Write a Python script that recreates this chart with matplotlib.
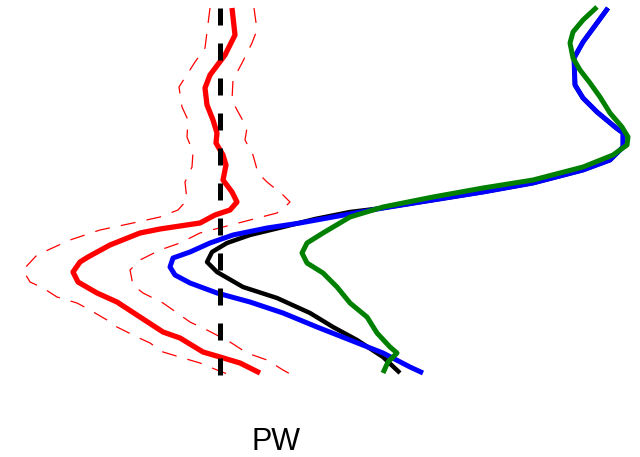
from matplotlib import pyplot as plt

# profiles, x value vs depth (depth grows downward)
red_x = [232, 235, 225, 210, 205, 207, 213, 217, 216, 223, 226, 223, 232, 237, 230, 215,
         200, 160, 140, 110, 88, 80, 73, 78, 97, 117, 140, 163, 180, 203, 220, 240, 260]
red_d = [8, 35, 55, 75, 88, 105, 120, 133, 143, 155, 165, 180, 192, 202, 210, 215,
         223, 229, 233, 245, 257, 262, 272, 282, 293, 302, 317, 332, 338, 352, 357, 363, 373]

red_lo_x = [210, 205, 195, 179, 182, 188, 187, 193, 192, 185, 187, 178, 160, 133, 100, 70,
            37, 23, 30, 43, 57, 77, 90, 107, 117, 137, 150, 163, 183, 200, 217, 230]
red_lo_d = [8, 48, 62, 87, 107, 120, 137, 152, 167, 182, 200, 210, 217, 223, 230, 240,
            255, 270, 282, 288, 297, 303, 310, 320, 327, 337, 343, 352, 358, 363, 370, 375]

red_hi_x = [254, 257, 252, 242, 233, 232, 237, 247, 245, 253, 258, 267, 283, 290, 285, 277,
            250, 227, 200, 180, 160, 140, 130, 133, 143, 163, 173, 190, 207, 230, 247, 267,
            283, 292]
red_hi_d = [8, 30, 43, 63, 80, 100, 110, 128, 140, 155, 173, 182, 195, 202, 207, 213,
            220, 226, 233, 243, 250, 260, 270, 285, 293, 303, 310, 322, 330, 342, 353, 360,
            370, 375]

blue_x = [608, 597, 583, 574, 575, 583, 597, 615, 623, 623, 610, 583, 533, 483, 433, 383,
          333, 300, 267, 233, 210, 190, 173, 170, 175, 190, 217, 250, 283, 317, 350, 383,
          410, 423]
blue_d = [8, 23, 42, 58, 85, 98, 112, 127, 133, 147, 160, 170, 183, 192, 200, 208,
          217, 223, 228, 235, 243, 252, 258, 267, 275, 283, 293, 302, 313, 327, 340, 353,
          367, 373]

black_x = [608, 597, 583, 574, 575, 583, 597, 615, 623, 623, 610, 583, 533, 483, 433, 383,
           350, 315, 283, 250, 227, 212, 207, 217, 243, 277, 310, 333, 357, 383, 400]
black_d = [8, 23, 42, 58, 85, 98, 112, 127, 133, 147, 160, 170, 183, 192, 200, 208,
           212, 219, 227, 235, 243, 252, 262, 272, 287, 298, 313, 327, 340, 357, 373]

green_x = [597, 583, 573, 570, 573, 580, 590, 600, 610, 622, 628, 627, 613, 583, 533, 483,
           433, 383, 350, 323, 307, 302, 307, 323, 337, 350, 367, 377, 390, 397, 388, 383]
green_d = [7, 20, 32, 43, 58, 70, 83, 97, 113, 127, 137, 145, 155, 167, 180, 188,
           197, 207, 217, 233, 243, 253, 263, 273, 287, 303, 317, 333, 347, 353, 362, 373]

ref_x = [220, 220]
ref_d = [8, 375]


def main():
    fig = plt.figure(figsize=(6.4, 4.57), dpi=100)
    ax = fig.add_axes([0, 0, 1, 1])

    ax.plot(red_lo_x, red_lo_d, color='red', lw=0.9, dashes=(12, 9))
    ax.plot(red_hi_x, red_hi_d, color='red', lw=0.9, dashes=(12, 9))
    ax.plot(red_x, red_d, color='red', lw=3.8, solid_capstyle='butt',
            solid_joinstyle='round')
    ax.plot(black_x, black_d, color='black', lw=3.2, solid_capstyle='butt',
            solid_joinstyle='round')
    ax.plot(blue_x, blue_d, color='blue', lw=3.6, solid_capstyle='butt',
            solid_joinstyle='round')
    ax.plot(green_x, green_d, color='green', lw=3.6, solid_capstyle='butt',
            solid_joinstyle='round')
    ax.plot(ref_x, ref_d, color='black', lw=3.6, dashes=(3.4, 3.6))

    ax.text(276, 442, 'PW', fontsize=22, family='Liberation Sans',
            ha='center', va='center')

    ax.set_xlim(0, 640)
    ax.set_ylim(457, 0)
    ax.axis('off')

    fig.savefig('out.png', dpi=100)


if __name__ == '__main__':
    main()
